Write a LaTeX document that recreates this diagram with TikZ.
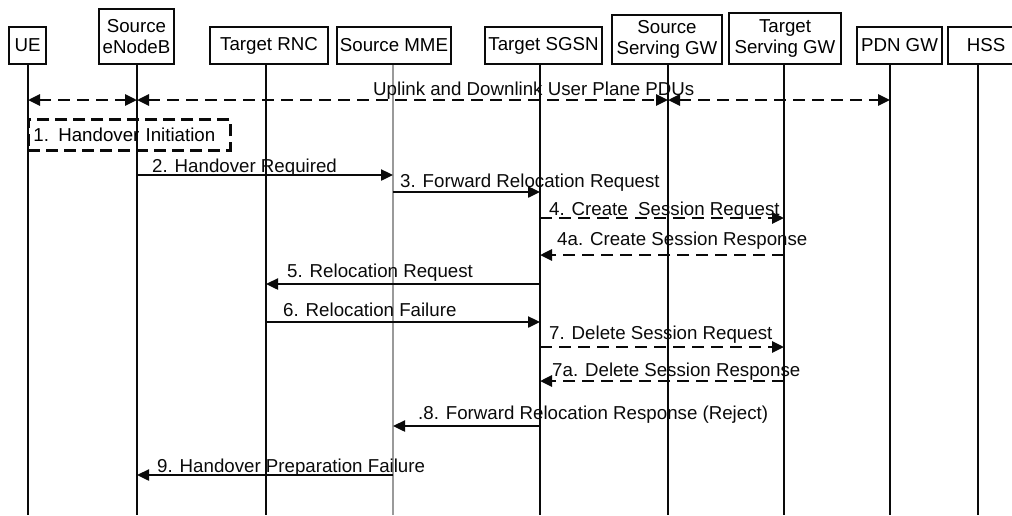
\documentclass[tikz,border=0pt]{standalone}
\usepackage{fontspec}
\setmainfont{Liberation Sans}
\usepackage{xcolor}
\usepackage{tikz}
\usetikzlibrary{arrows.meta}
\definecolor{ink}{HTML}{0A0A0A}
\definecolor{faint}{HTML}{9A9A9A}
\newcommand{\lab}{\fontsize{18.7}{21}\selectfont}
\tikzset{
  ent/.style={draw=ink, line width=1.9pt, inner sep=0pt, align=center, font=\lab},
  life/.style={draw=ink, line width=1.7pt},
  lifeg/.style={draw=faint, line width=2pt},
  msg/.style={draw=ink, line width=2.4pt, -{Triangle[length=12pt,width=11pt]}},
  dmsg/.style={msg, line width=2.8pt, dash pattern=on 12pt off 7pt},
  updown/.style={dmsg, {Triangle[length=12pt,width=11pt]}-{Triangle[length=12pt,width=11pt]}},
  hobox/.style={draw=ink, line width=2.8pt, dash pattern=on 12pt off 6pt},
  txt/.style={anchor=base west, inner sep=0pt, font=\lab, text=ink},
}

\begin{document}
\begin{tikzpicture}[x=1pt,y=-1pt]
  \useasboundingbox (0,0) rectangle (1012,515);

  % lifelines
  \foreach \n/\x in {ue/28,enb/137,rnc/266,mme/393,sgsn/540,ssgw/668,tsgw/784,pdn/890,hss/978}{
    \coordinate (\n) at (\x,64);
    \coordinate (\n-end) at (\x,515);
  }
  \foreach \n in {ue,enb,rnc,sgsn,ssgw,tsgw,pdn,hss}
    \draw[life] (\n) -- (\n-end);
  \draw[lifeg] (mme) -- (mme-end);

  \node[ent, minimum width=37pt, minimum height=37pt] (ueb) at (27.5,45.5) {UE};
  \node[ent, minimum width=75pt, minimum height=55pt] (enbb) at (136.5,36.5) {Source\\eNodeB};
  \node[ent, minimum width=118pt, minimum height=37pt] (rncb) at (269,45.5) {Target RNC};
  \node[ent, minimum width=114pt, minimum height=37pt] (mmeb) at (394,45.5) {Source MME};
  \node[ent, minimum width=117pt, minimum height=37pt] (sgsnb) at (543.5,45.5) {Target SGSN};
  \node[ent, minimum width=110pt, minimum height=49pt] (ssgwb) at (667,39.5) {Source\\Serving GW};
  \node[ent, minimum width=112pt, minimum height=51pt] (tsgwb) at (785,38.5) {Target\\Serving GW};
  \node[ent, minimum width=85pt, minimum height=37pt] (pdnb) at (899.5,45.5) {PDN GW};
  \node[ent, minimum width=76pt, minimum height=37pt] (hssb) at (986,45.5) {HSS};

  % user plane
  \draw[updown] (ue |- 0,100) -- (enb |- 0,100);
  \draw[updown] (enb |- 0,100) -- (ssgw |- 0,100);
  \draw[updown] (ssgw |- 0,100) -- (pdn |- 0,100);
  \node[txt] (upl) at (373,95) {Uplink and Downlink User Plane PDUs};

  \node[hobox, anchor=north west, text width=192pt, inner xsep=5pt, inner ysep=0pt,
        minimum height=31pt, align=left, font=\lab] (hoi) at (27,118) {1. Handover Initiation};

  % messages
  \draw[msg] (enb |- 0,175) -- (mme |- 0,175);
  \node[txt] (m2) at (152,172) {2. Handover Required};
  \draw[msg] (mme |- 0,192) -- (sgsn |- 0,192);
  \node[txt] (m3) at (400,187) {3. Forward Relocation Request};
  \draw[dmsg] (sgsn |- 0,218) -- (tsgw |- 0,218);
  \node[txt] (m4) at (549,215) {4. Create\ \ Session Request};
  \draw[dmsg] (tsgw |- 0,255) -- (sgsn |- 0,255);
  \node[txt] (m4a) at (557,245) {4a. Create Session Response};
  \draw[msg] (sgsn |- 0,284) -- (rnc |- 0,284);
  \node[txt] (m5) at (287,277) {5. Relocation Request};
  \draw[msg] (rnc |- 0,322) -- (sgsn |- 0,322);
  \node[txt] (m6) at (283,316) {6. Relocation Failure};
  \draw[dmsg] (sgsn |- 0,347) -- (tsgw |- 0,347);
  \node[txt] (m7) at (549,339) {7. Delete Session Request};
  \draw[dmsg] (tsgw |- 0,381) -- (sgsn |- 0,381);
  \node[txt] (m7a) at (552,376) {7a. Delete Session Response};
  \draw[msg] (sgsn |- 0,426) -- (mme |- 0,426);
  \node[txt] (m8) at (418,419) {.8. Forward Relocation Response (Reject)};
  \draw[msg] (mme |- 0,475) -- (enb |- 0,475);
  \node[txt] (m9) at (157,472) {9. Handover Preparation Failure};
\end{tikzpicture}
\end{document}
